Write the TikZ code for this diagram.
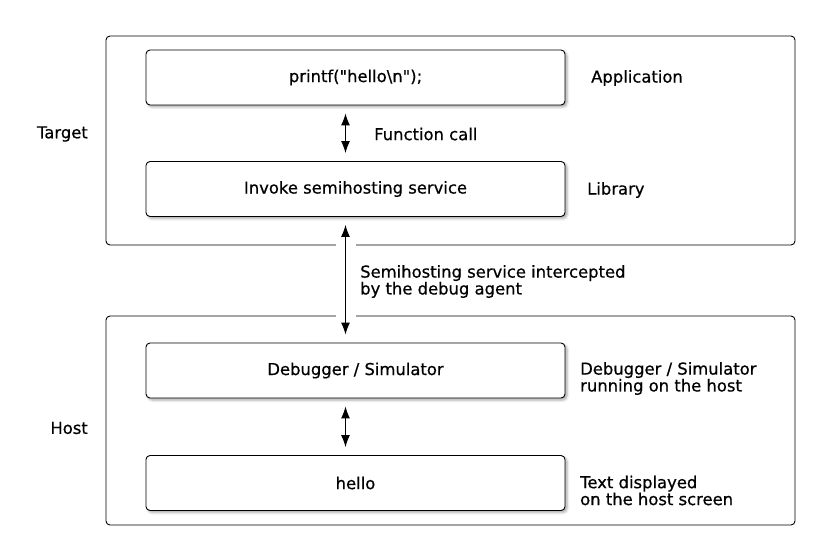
\documentclass[tikz,border=0pt]{standalone}
\usepackage{fontspec}
\setmainfont{DejaVu Sans}[Ligatures=TeXOff, FakeBold=0.6]
\usepackage{tikz}
\usetikzlibrary{arrows.meta, positioning, shadows.blur}
\tikzset{
  layer/.style={draw, line width=0.9bp, rounded corners=4bp, minimum width=689bp, minimum height=209bp, inner sep=0pt},
  block/.style={draw, fill=white, line width=0.9bp, rounded corners=4bp, minimum width=419bp, minimum height=55bp, inner sep=0pt,
    blur shadow={shadow xshift=2bp, shadow yshift=-2bp, shadow blur radius=2.5bp, shadow opacity=35}},
  note/.style={anchor=west, align=left, inner sep=0pt},
  link/.style={{Latex[length=12bp,width=9bp]}-{Latex[length=12bp,width=9bp]}, line width=1bp, shorten <=8bp, shorten >=8bp}
}

\begin{document}
\begin{tikzpicture}[x=1bp, y=-1bp, font=\fontsize{16.4bp}{14.5bp}\selectfont]
\useasboundingbox (0,0) rectangle (820,560);
% outer layers
\node[layer] (target) at (450.5,140.5) {};
\node[layer] (host) at (450.5,420.5) {};
\node[anchor=east, inner sep=0pt] (targetlbl) at (88,134) {Target};
\node[anchor=east, inner sep=0pt] (hostlbl) at (88,428) {Host};
% blocks
\node[block] (app) at (355.5,77.5) {\raisebox{-2bp}{printf("hello\textbackslash n");}};
\node[block] (lib) at (355.5,189) {\raisebox{-2bp}{Invoke semihosting service}};
\node[block] (dbg) at (355.5,370.5) {\raisebox{-2bp}{Debugger / Simulator}};
\node[block] (out) at (355.5,483) {\raisebox{-2bp}{hello}};
% side notes
\node[note] (appnote) at (591,78) {Application};
\node[note] (libnote) at (587,190) {Library};
\node[note] (callnote) at (374,134) {Function call};
\node[note] (semnote) at (360,281.5) {Semihosting service intercepted\\by the debug agent};
\node[note] (dbgnote) at (580,378.5) {Debugger / Simulator\\running on the host};
\node[note] (outnote) at (580,490.5) {Text displayed\\on the host screen};
% connectors
\draw[link] ([xshift=-10bp]app.south) -- ([xshift=-10bp]lib.north);
\draw[white, line width=20bp, shorten <=8bp, shorten >=8bp] ([xshift=-10bp]lib.south) -- ([xshift=-10bp]dbg.north);
\draw[link] ([xshift=-10bp]lib.south) -- ([xshift=-10bp]dbg.north);
\draw[link] ([xshift=-10bp]dbg.south) -- ([xshift=-10bp]out.north);
\end{tikzpicture}
\end{document}
